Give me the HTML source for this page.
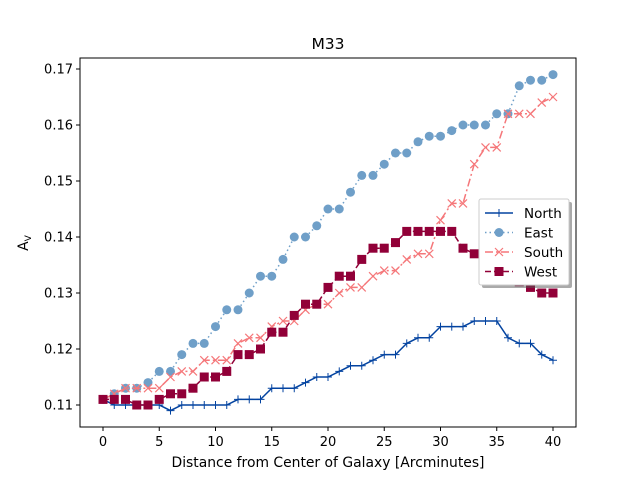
<!DOCTYPE html>
<html><head><meta charset="utf-8"><style>
body{margin:0;background:#fff;font-family:"Liberation Sans","DejaVu Sans",sans-serif}
</style></head><body>
<svg id="chart" width="640" height="480" xmlns="http://www.w3.org/2000/svg" font-family="DejaVu Sans, Liberation Sans, sans-serif"></svg>
<script>
const xs=[0,1,2,3,4,5,6,7,8,9,10,11,12,13,14,15,16,17,18,19,20,21,22,23,24,25,26,27,28,29,30,31,32,33,34,35,36,37,38,39,40];
const north=[.111,.110,.110,.110,.110,.110,.109,.110,.110,.110,.110,.110,.111,.111,.111,.113,.113,.113,.114,.115,.115,.116,.117,.117,.118,.119,.119,.121,.122,.122,.124,.124,.124,.125,.125,.125,.122,.121,.121,.119,.118];
const east=[.111,.112,.113,.113,.114,.116,.116,.119,.121,.121,.124,.127,.127,.130,.133,.133,.136,.140,.140,.142,.145,.145,.148,.151,.151,.153,.155,.155,.157,.158,.158,.159,.160,.160,.160,.162,.162,.167,.168,.168,.169];
const south=[.111,.112,.113,.113,.113,.113,.115,.116,.116,.118,.118,.118,.121,.122,.122,.124,.125,.125,.127,.128,.128,.130,.131,.131,.133,.134,.134,.136,.137,.137,.143,.146,.146,.153,.156,.156,.162,.162,.162,.164,.165];
const west=[.111,.111,.111,.110,.110,.111,.112,.112,.113,.115,.115,.116,.119,.119,.120,.123,.123,.126,.128,.128,.131,.133,.133,.136,.138,.138,.139,.141,.141,.141,.141,.141,.138,.137,.136,.135,.133,.132,.131,.130,.130];
const xTicks=[0,5,10,15,20,25,30,35,40];
const yTicks=[0.11,0.12,0.13,0.14,0.15,0.16,0.17];
const NS="http://www.w3.org/2000/svg";
const svg=document.getElementById('chart');
const X=v=>103+v*11.25;
const Y=v=>405-(v-0.11)*5600;
function mk(t,a,p){const e=document.createElementNS(NS,t);for(const k in a)e.setAttribute(k,a[k]);(p||svg).appendChild(e);return e;}
const fr=mk('rect',{x:80,y:58,width:496,height:369,fill:'none',stroke:'#000','stroke-width':1});


xTicks.forEach(t=>{
 const l=mk('line',{x1:X(t),x2:X(t),y1:427,y2:431,stroke:'#000'});
 
 
 const tx=mk('text',{x:X(t),y:446,'font-size':13,'text-anchor':'middle'});tx.textContent=t;
 
 
});
yTicks.forEach(t=>{
 const l=mk('line',{x1:76,x2:80,y1:Y(t),y2:Y(t),stroke:'#000'});
 
 
 const tx=mk('text',{x:73,y:Y(t)+4.5,'font-size':13,'text-anchor':'end'});tx.textContent=t.toFixed(2);
 
 
});
const ti=mk('text',{x:328,y:49,'font-size':15.5,'text-anchor':'middle'});ti.textContent='M33';


const xl=mk('text',{x:328,y:467,'font-size':13.9,'text-anchor':'middle'});xl.textContent='Distance from Center of Galaxy [Arcminutes]';


const yl=mk('text',{x:0,y:0,'font-size':13.9,'text-anchor':'middle',transform:'translate(28,243) rotate(-90)'});
yl.innerHTML='A<tspan font-size="9" dy="3">V</tspan>';


function marker(g,type,x,y,c){
 if(type==='plus'){mk('path',{d:`M${x-4},${y}H${x+4}M${x},${y-4}V${y+4}`,stroke:c,'stroke-width':1},g);}
 else if(type==='circle'){mk('circle',{cx:x,cy:y,r:4.5,fill:c},g);}
 else if(type==='x'){mk('path',{d:`M${x-4},${y-4}L${x+4},${y+4}M${x-4},${y+4}L${x+4},${y-4}`,stroke:c,'stroke-width':1.2},g);}
 else {mk('rect',{x:x-4.5,y:y-4.5,width:9,height:9,fill:c},g);}
}
const series=[
 {name:'north',vals:north,c:'#0343a0',dash:'',m:'plus'},
 {name:'east',vals:east,c:'#6f9fc8',dash:'1.5,3',m:'circle'},
 {name:'south',vals:south,c:'#f5777a',dash:'8,3,2,3',m:'x'},
 {name:'west',vals:west,c:'#910038',dash:'6,3',m:'square'}
];
series.forEach(s=>{
 const g=mk('g',{});
 
 
 const d=s.vals.map((v,i)=>(i?'L':'M')+X(xs[i])+','+Y(v)).join('');
 mk('path',{d:d,fill:'none',stroke:s.c,'stroke-width':1.5,'stroke-dasharray':s.dash},g);
 s.vals.forEach((v,i)=>marker(g,s.m,X(xs[i]),Y(v),s.c));
});
const lg=mk('g',{});


mk('rect',{x:482,y:202,width:90,height:86,rx:2,fill:'#555',opacity:0.5},lg);
mk('rect',{x:479,y:199,width:90,height:86,rx:2,fill:'#fff',stroke:'#ccc'},lg);
series.forEach((s,i)=>{
 const y=213+i*19.5;
 const e=mk('g',{},lg);
 
 
 mk('line',{x1:485,x2:513,y1:y,y2:y,stroke:s.c,'stroke-width':1.5,'stroke-dasharray':s.dash},e);
 marker(e,s.m,499,y,s.c);
 const t=mk('text',{x:524,y:y+5,'font-size':13.5},e);
 t.textContent=s.name[0].toUpperCase()+s.name.slice(1);
});
</script>
</body></html>
